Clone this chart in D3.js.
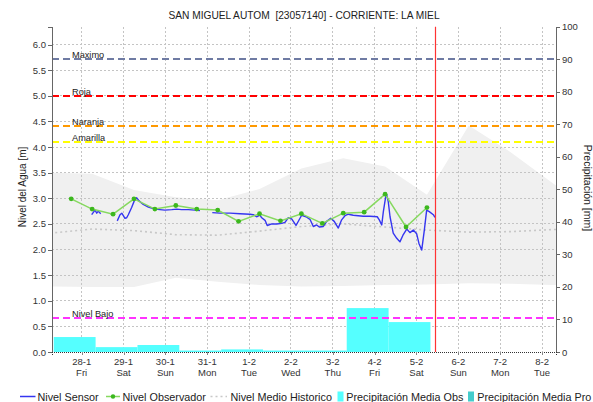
<!DOCTYPE html>
<html><head><meta charset="utf-8">
<script src="https://cdn.jsdelivr.net/npm/d3@7"></script>
<style>
html,body{margin:0;padding:0;background:#fff;}
svg{display:block;font-family:"Liberation Sans",Arial,Helvetica,sans-serif;}
</style></head><body>
<svg id="chart" width="593" height="402"></svg>
<script>
// ---- Data ----
const chartTitle = "SAN MIGUEL AUTOM  [23057140] - CORRIENTE: LA MIEL";

// Historical band (daily, 06:00): min, max and mean level [m]
const histTimes = ["2022-01-27 06:00","2022-01-28 06:00","2022-01-29 06:00","2022-01-30 06:00","2022-01-31 06:00",
  "2022-02-01 06:00","2022-02-02 06:00","2022-02-03 06:00","2022-02-04 06:00","2022-02-05 06:00",
  "2022-02-06 06:00","2022-02-07 06:00","2022-02-08 06:00","2022-02-09 06:00"];
const histMax  = [3.50,3.48,3.16,3.02,2.96,3.18,3.58,3.78,3.62,3.07,4.42,3.90,3.30,2.70];
const histMin  = [1.28,1.27,1.27,1.45,1.37,1.31,1.28,1.29,1.31,1.32,1.34,1.33,1.31,1.30];
const histMean = [2.32,2.40,2.37,2.29,2.28,2.36,2.45,2.50,2.44,2.38,2.34,2.35,2.39,2.40];

// Observer readings (06:00 and 18:00) [m]
const obsTimes = ["2022-01-27 18:00","2022-01-28 06:00","2022-01-28 18:00","2022-01-29 06:00","2022-01-29 18:00",
  "2022-01-30 06:00","2022-01-30 18:00","2022-01-31 06:00","2022-01-31 18:00","2022-02-01 06:00",
  "2022-02-01 18:00","2022-02-02 06:00","2022-02-02 18:00","2022-02-03 06:00","2022-02-03 18:00",
  "2022-02-04 06:00","2022-02-04 18:00","2022-02-05 06:00"];
const obsLevels = [2.99,2.79,2.69,2.99,2.79,2.86,2.79,2.77,2.55,2.70,2.56,2.70,2.51,2.71,2.73,3.08,2.44,2.82];

// Sensor readings [m]; null = no data
const sensorTimes = [
  "2022-01-28 05:45","2022-01-28 07:40","2022-01-28 08:40","2022-01-28 09:35","2022-01-28 10:55",
  "2022-01-28 15:00",
  "2022-01-28 20:25","2022-01-28 22:00","2022-01-28 23:00","2022-01-28 23:55","2022-01-29 00:50",
  "2022-01-29 01:50","2022-01-29 02:45","2022-01-29 04:40","2022-01-29 06:10","2022-01-29 07:35",
  "2022-01-29 08:55","2022-01-29 11:20","2022-01-29 14:15","2022-01-29 18:05","2022-01-29 23:45",
  "2022-01-30 03:40","2022-01-30 06:30","2022-01-30 09:20","2022-01-30 13:10","2022-01-30 17:00",
  "2022-01-30 19:50",
  "2022-01-30 23:00",
  "2022-01-31 02:55","2022-01-31 07:20","2022-01-31 13:05","2022-01-31 18:50","2022-02-01 00:30",
  "2022-02-01 02:25","2022-02-01 04:20","2022-02-01 06:15","2022-02-01 07:15","2022-02-01 09:10",
  "2022-02-01 10:25","2022-02-01 13:00","2022-02-01 15:50","2022-02-01 18:45","2022-02-01 20:35",
  "2022-02-01 22:30","2022-02-02 00:25","2022-02-02 02:55","2022-02-02 06:10","2022-02-02 08:40",
  "2022-02-02 10:55","2022-02-02 12:50","2022-02-02 14:45","2022-02-02 16:15","2022-02-02 18:35",
  "2022-02-02 20:30","2022-02-02 22:50","2022-02-03 00:50","2022-02-03 03:10","2022-02-03 05:05",
  "2022-02-03 07:00","2022-02-03 08:55","2022-02-03 11:45","2022-02-03 17:30","2022-02-03 21:20",
  "2022-02-04 01:30","2022-02-04 02:40","2022-02-04 04:05","2022-02-04 05:00","2022-02-04 06:20",
  "2022-02-04 06:55","2022-02-04 07:50","2022-02-04 08:50","2022-02-04 10:40","2022-02-04 12:40",
  "2022-02-04 14:30","2022-02-04 16:15","2022-02-04 18:25","2022-02-04 20:15","2022-02-04 22:10",
  "2022-02-05 00:05","2022-02-05 01:25","2022-02-05 03:00","2022-02-05 04:30","2022-02-05 05:50",
  "2022-02-05 07:20","2022-02-05 09:40","2022-02-05 10:35"];
const sensorLevels = [
  2.68,2.77,2.71,2.75,2.70,
  null,
  2.56,2.68,2.71,2.66,2.61,
  2.62,2.68,2.82,2.95,3.01,
  2.95,2.88,2.83,2.79,2.77,
  2.78,2.79,2.78,2.78,2.77,
  2.76,
  null,
  2.72,2.71,2.71,2.70,2.69,
  2.68,2.64,2.67,2.62,2.57,
  2.47,2.50,2.50,2.51,2.53,
  2.62,2.60,2.47,2.67,2.64,
  2.59,2.45,2.48,2.44,2.45,
  2.55,2.61,2.55,2.42,2.58,
  2.66,2.69,2.67,2.65,2.65,
  2.64,2.58,2.48,2.74,3.03,
  3.07,2.93,2.64,2.32,2.22,
  2.15,2.28,2.40,2.33,2.38,
  2.31,2.12,1.99,2.38,2.77,
  2.74,2.68,2.63];

// Daily observed precipitation [mm], accumulated up to 08:00 of each day
const precipDays = ["2022-01-28","2022-01-29","2022-01-30","2022-01-31","2022-02-01",
  "2022-02-02","2022-02-03","2022-02-04","2022-02-05"];
const precipObs = [4.6,1.5,2.15,0.45,0.8,0.45,0.45,13.5,9.2];

// Alert levels [m]
const alertNames  = ["Maximo","Roja","Naranja","Amarilla","Nivel Bajo"];
const alertLevels = [5.72,5.0,4.41,4.10,0.66];
const alertColors = ["#6f7ba3","#ff0000","#ff9900","#ffff00","#ff33ff"];

const nowTime = "2022-02-05 11:00";
const timeStart = "2022-01-27 07:00", timeEnd = "2022-02-08 08:00";
const levelMax = 6.35, precipMax = 100;

const legendLabels = ["Nivel Sensor","Nivel Observador","Nivel Medio Historico",
  "Precipitación Media Obs","Precipitación Media Pro"];

// ---- Setup ----
const parseT = d3.timeParse("%Y-%m-%d %H:%M");
const parseD = d3.timeParse("%Y-%m-%d");
const svg = d3.select("#chart");
const L = 52, R = 556, T = 26.7, B = 352;

const x = d3.scaleTime().domain([parseT(timeStart), parseT(timeEnd)]).range([L, R]);
const yL = d3.scaleLinear().domain([0, levelMax]).range([B, T]);
const yR = d3.scaleLinear().domain([0, precipMax]).range([B, T]);

svg.append("defs").append("clipPath").attr("id","plotClip")
  .append("rect").attr("x", L).attr("y", T).attr("width", R - L).attr("height", B - T);

// Title
svg.append("text").attr("x", 304).attr("y", 19).attr("text-anchor","middle")
  .attr("font-size", 10.2).attr("fill","#222").style("white-space","pre").text(chartTitle);

const plot = svg.append("g").attr("clip-path","url(#plotClip)");

// Historical range band
const hist = histTimes.map((t, i) => ({t: parseT(t), lo: histMin[i], hi: histMax[i], m: histMean[i]}));
plot.append("path").datum(hist)
  .attr("d", d3.area().x(d => x(d.t)).y0(d => yL(d.lo)).y1(d => yL(d.hi)))
  .attr("fill","#f0f0f0");

// Grid
const dayTicks = d3.timeDay.range(parseD("2022-01-28"), parseD("2022-02-09"));
const levelTicks = d3.range(0, 6.01, 0.5);
plot.append("g").selectAll("line").data(dayTicks).join("line")
  .attr("x1", d => x(d)).attr("x2", d => x(d)).attr("y1", T).attr("y2", B)
  .attr("stroke","#c4c4c4").attr("stroke-dasharray","2,2").attr("shape-rendering","crispEdges");
plot.append("g").selectAll("line").data(levelTicks.filter(v => v > 0)).join("line")
  .attr("x1", L).attr("x2", R).attr("y1", d => yL(d)).attr("y2", d => yL(d))
  .attr("stroke","#c4c4c4").attr("stroke-dasharray","2,2").attr("shape-rendering","crispEdges");

// Precipitation bars
const bars = precipDays.map((d, i) => {
  const end = d3.timeHour.offset(parseD(d), 8);
  return {start: d3.timeDay.offset(end, -1), end, v: precipObs[i]};
});
plot.append("g").selectAll("rect").data(bars).join("rect")
  .attr("x", d => x(d.start)).attr("width", d => x(d.end) - x(d.start))
  .attr("y", d => yR(d.v)).attr("height", d => B - yR(d.v))
  .attr("fill","#55ffff");

// Historical mean
plot.append("path").datum(hist)
  .attr("d", d3.line().x(d => x(d.t)).y(d => yL(d.m)))
  .attr("fill","none").attr("stroke","#c8c8c8").attr("stroke-width",1.6)
  .attr("stroke-dasharray","2,3");

// Alert levels
alertLevels.forEach((v, i) => {
  plot.append("line").attr("x1", L).attr("x2", R).attr("y1", yL(v)).attr("y2", yL(v))
    .attr("stroke", alertColors[i]).attr("stroke-width", 2).attr("stroke-dasharray","7,4")
    .attr("shape-rendering","crispEdges");
  svg.append("text").attr("x", 72).attr("y", yL(v) - 0.8).attr("font-size", 9.2)
    .attr("fill","#222").text(alertNames[i]);
});

// Sensor line
const sensor = sensorTimes.map((t, i) => ({t: parseT(t), v: sensorLevels[i]}));
plot.append("path").datum(sensor)
  .attr("d", d3.line().defined(d => d.v !== null).x(d => x(d.t)).y(d => yL(d.v)))
  .attr("fill","none").attr("stroke","#3535f0").attr("stroke-width",1.4)
  .attr("stroke-linejoin","round");

// Observer line + points
const obs = obsTimes.map((t, i) => ({t: parseT(t), v: obsLevels[i]}));
plot.append("path").datum(obs)
  .attr("d", d3.line().x(d => x(d.t)).y(d => yL(d.v)))
  .attr("fill","none").attr("stroke","#86d95f").attr("stroke-width",1.5);
plot.append("g").selectAll("circle").data(obs).join("circle")
  .attr("cx", d => x(d.t)).attr("cy", d => yL(d.v)).attr("r", 2.4).attr("fill","#3cb81e");

// Current time marker, snapped to a pixel centre
const nowX = Math.floor(x(parseT(nowTime))) + 0.5;
svg.append("line").attr("x1", nowX).attr("x2", nowX)
  .attr("y1", T).attr("y2", B).attr("stroke","#ff3333").attr("stroke-width",1.2);

// ---- Axes ----
const fmtDay = d3.timeFormat("%-d-%-m"), fmtWk = d3.timeFormat("%a");
const axL = svg.append("g").attr("transform", `translate(${L},0)`)
  .call(d3.axisLeft(yL).tickValues(levelTicks).tickFormat(d3.format(".1f")).tickSize(4).tickPadding(2));
const axR = svg.append("g").attr("transform", `translate(${R},0)`)
  .call(d3.axisRight(yR).tickValues(d3.range(0, 101, 10)).tickSize(4).tickPadding(2));
[axL, axR].forEach(a => {
  a.selectAll("text").attr("font-size", 9.5).attr("fill","#333").attr("font-family","Liberation Sans, Arial, sans-serif");
  a.selectAll("line").attr("stroke","#666");
  a.select(".domain").attr("stroke","#666");
  a.attr("shape-rendering","crispEdges");
});

const axB = svg.append("g").attr("transform", `translate(0,${B})`)
  .call(d3.axisBottom(x).tickValues(dayTicks).tickSize(3).tickFormat(""));
axB.select(".domain").attr("stroke","#333").attr("stroke-dasharray","1,1");
axB.selectAll("line").attr("stroke","#888");
axB.attr("shape-rendering","crispEdges");
const dayLab = svg.append("g").selectAll("g").data(dayTicks).join("g")
  .attr("transform", d => `translate(${x(d)},0)`);
dayLab.append("text").attr("y", 364.5).attr("text-anchor","middle").attr("font-size", 9.5)
  .attr("fill","#333").text(d => fmtDay(d));
dayLab.append("text").attr("y", 375.5).attr("text-anchor","middle").attr("font-size", 9.5)
  .attr("fill","#333").text(d => fmtWk(d));

// Axis titles
svg.append("text").attr("transform","translate(26,187) rotate(-90)").attr("text-anchor","middle")
  .attr("font-size", 10).attr("fill","#222").text("Nivel del Agua [m]");
svg.append("text").attr("transform","translate(584,188) rotate(90)").attr("text-anchor","middle")
  .attr("font-size", 10.5).attr("fill","#222").text("Precipitación [mm]");

// ---- Legend ----
const lg = svg.append("g");
const ly = 396.5, lt = 400.5;
lg.append("line").attr("x1",20).attr("x2",35.5).attr("y1",ly).attr("y2",ly).attr("stroke","#3535f0").attr("stroke-width",1.5);
lg.append("text").attr("x",37.5).attr("y",lt).text(legendLabels[0]);
lg.append("line").attr("x1",106).attr("x2",120).attr("y1",ly).attr("y2",ly).attr("stroke","#86d95f").attr("stroke-width",1.5);
lg.append("circle").attr("cx",113).attr("cy",ly).attr("r",2.2).attr("fill","#3cb81e");
lg.append("text").attr("x",122.5).attr("y",lt).text(legendLabels[1]);
lg.append("line").attr("x1",210.5).attr("x2",227).attr("y1",ly).attr("y2",ly).attr("stroke","#c8c8c8").attr("stroke-width",1.6).attr("stroke-dasharray","2,3");
lg.append("text").attr("x",230.5).attr("y",lt).text(legendLabels[2]);
lg.append("rect").attr("x",337.5).attr("y",391.5).attr("width",6).attr("height",10).attr("fill","#55ffff");
lg.append("text").attr("x",346.3).attr("y",lt).text(legendLabels[3]);
lg.append("rect").attr("x",468).attr("y",391.5).attr("width",6).attr("height",10).attr("fill","#44cccc");
lg.append("text").attr("x",477.3).attr("y",lt).text(legendLabels[4]);
lg.selectAll("text").attr("font-size", 10.8).attr("fill","#222");
</script></body></html>
